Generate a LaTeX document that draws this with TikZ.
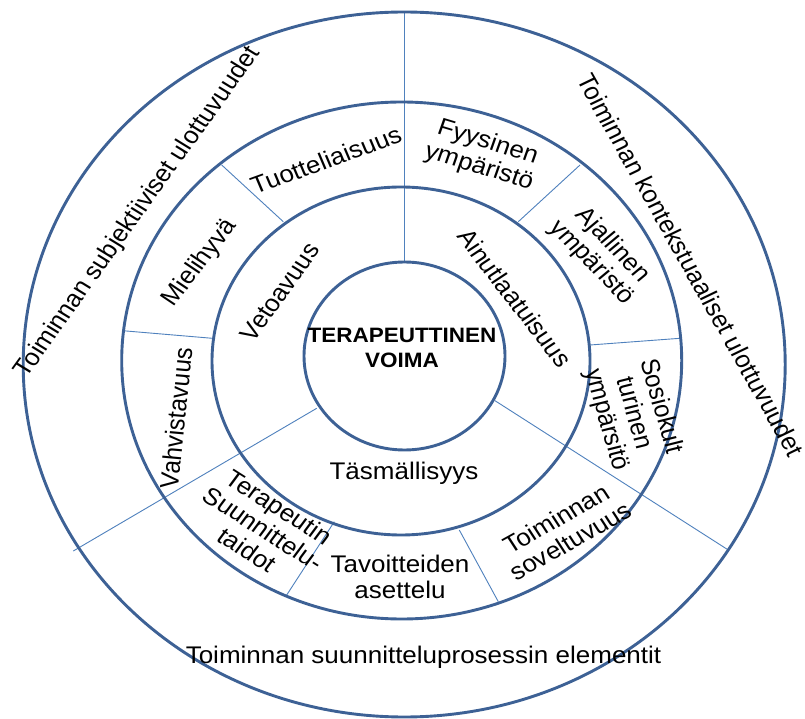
\documentclass[tikz,border=0pt]{standalone}
\usepackage{fontspec}
\setmainfont{Liberation Sans}
\begin{document}
\begin{tikzpicture}[x=1pt,y=1pt,
  ring/.style={draw=ringblue, line width=2.9pt},
  divider/.style={draw=divblue, line width=0.9pt},
  lbl/.style={font=\fontsize{26}{28}\selectfont, align=center, inner sep=0pt, transform shape},
  core/.style={font=\fontsize{22.5}{27}\selectfont\bfseries, align=center, inner sep=0pt, transform shape}]
\definecolor{ringblue}{HTML}{3D6195}
\definecolor{divblue}{HTML}{4F81BD}
\useasboundingbox (0,0) rectangle (805,718);
\fill[white] (0,0) rectangle (805,718);
% dividers
\draw[divider] (404,706) -- (404,456);
\draw[divider] (221.7,553) -- (283.3,496.3);
\draw[divider] (580,553) -- (518.3,496.3);
\draw[divider] (122.7,387.3) -- (212.3,379.7);
\draw[divider] (590,373) -- (680,379.7);
\draw[divider] (73.3,167) -- (316.7,309.7);
\draw[divider] (495,317.3) -- (728.3,168);
\draw[divider] (334.3,196.3) -- (286.7,123);
\draw[divider] (459.3,188) -- (498.3,116.3);
% rings
\draw[ring] (404.2,353.5) ellipse[x radius=381, y radius=352.5];
\draw[ring] (401.7,357.5) ellipse[x radius=280, y radius=258.5];
\draw[ring] (401,357) ellipse[x radius=189, y radius=174];
\draw[ring] (404.5,362) ellipse[x radius=100.5, y radius=94];
% labels
\begin{scope}[shift={(403,357)}, yscale=0.925]
\node[core] (core) at (-1,14.6) {TERAPEUTTINEN\\VOIMA};
\node[lbl, rotate=56.4] (subj) at (-265,161) {Toiminnan subjektiiviset ulottuvuudet};
\node[lbl, rotate=-62.5] (kont) at (288,103.8) {Toiminnan kontekstuaaliset ulottuvuudet};
\node[lbl, anchor=base] (suun) at (20.5,-326.5) {Toiminnan suunnitteluprosessin elementit};
\node[lbl, rotate=21.4] (tuot) at (-77,217.3) {Tuotteliaisuus};
\node[lbl, rotate=-18] (fyys) at (80.3,222.7) {Fyysinen\\ympäristö};
\node[lbl, rotate=-48] (ajal) at (199,115.7) {Ajallinen\\ympäristö};
\node[lbl, rotate=-75] (sosi) at (230.3,-56.5) {Sosiokult\\turinen\\ympärsitö};
\node[lbl, rotate=31] (sove) at (160.3,-182.7) {Toiminnan\\soveltuvuus};
\node[lbl] (tavo) at (-3,-233.5) {Tavoitteiden\\asettelu};
\node[lbl, rotate=-34.5] (tera) at (-139.7,-180.9) {Terapeutin\\Suunnittelu-\\taidot};
\node[lbl, rotate=84.5] (vahv) at (-227,-61.6) {Vahvistavuus};
\node[lbl, rotate=54] (miel) at (-203,105.9) {Mielihyvä};
\node[lbl, rotate=56] (veto) at (-123,74.6) {Vetoavuus};
\node[lbl, rotate=-54.4] (ainu) at (112,68.1) {Ainutlaatuisuus};
\node[lbl, anchor=base] (tasm) at (1,-128.6) {Täsmällisyys};
\end{scope}
\end{tikzpicture}
\end{document}
